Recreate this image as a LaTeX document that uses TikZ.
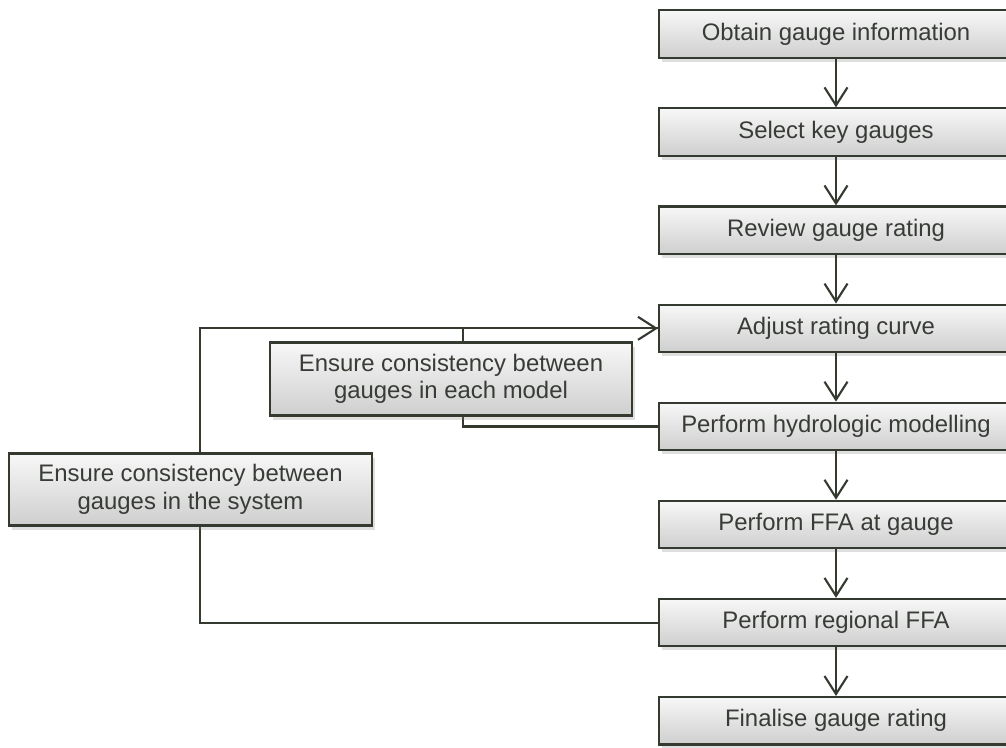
\documentclass[tikz,border=0pt]{standalone}
\usepackage{fontspec}
\setmainfont{Liberation Sans}
\usetikzlibrary{positioning,arrows.meta,shadows,backgrounds}
\definecolor{boxline}{RGB}{52,58,48}
\definecolor{boxtext}{RGB}{56,60,54}
\tikzset{
	stepbox/.style={draw=boxline, line width=1.2pt, text=boxtext,
		top color=gray!6, bottom color=gray!38,
		minimum width=7.08cm, minimum height=0.95cm, inner sep=0pt, align=center,
		font=\fontsize{13.6}{15.6}\selectfont,
		drop shadow={shadow xshift=0.06cm, shadow yshift=-0.08cm, opacity=0.25}},
	flow/.style={draw=boxline, line width=1.2pt},
	flowarr/.style={flow, -{Straight Barb[length=3.6mm,width=4.6mm]}}
}

\begin{document}
\begin{tikzpicture}[node distance=0.97cm]
	%%%%% START %%%%%
	\def\colx{16.72}
	\def\coly{-0.68}
	\def\loopx{0.19}
	\def\modx{0.24}

	\useasboundingbox (0,0) rectangle (20.12,-14.94);

	% main column
	\node[stepbox] (obtain) at (\colx,\coly) {Obtain gauge information};
	\node[stepbox, below=of obtain] (select) {Select key gauges};
	\node[stepbox, below=of select] (review) {Review gauge rating};
	\node[stepbox, below=of review] (adjust) {Adjust rating curve};
	\node[stepbox, below=of adjust] (hydro) {Perform hydrologic modelling};
	\node[stepbox, below=of hydro] (ffa) {Perform FFA at gauge};
	\node[stepbox, below=of ffa] (regional) {Perform regional FFA};
	\node[stepbox, below=of regional] (finalise) {Finalise gauge rating};

	% consistency checks
	\node[stepbox, minimum width=7.24cm, minimum height=1.46cm] (model) at (9.02,-7.58)
		{Ensure consistency between\\gauges in each model};
	\node[stepbox, minimum width=7.26cm, minimum height=1.44cm] (system) at (3.81,-9.79)
		{Ensure consistency between\\gauges in the system};

	\draw[flowarr] (obtain) -- (select);
	\draw[flowarr] (select) -- (review);
	\draw[flowarr] (review) -- (adjust);
	\draw[flowarr] (adjust) -- (hydro);
	\draw[flowarr] (hydro) -- (ffa);
	\draw[flowarr] (ffa) -- (regional);
	\draw[flowarr] (regional) -- (finalise);

	\begin{scope}[on background layer]
		\draw[flow] ([xshift=\modx cm]model.north) |- (adjust);
		\draw[flow] ([xshift=\modx cm]model.south) |- (hydro);
		\draw[flowarr] (regional) -| ([xshift=\loopx cm]system.center) |- (adjust);
	\end{scope}
	%%%%% END %%%%%
\end{tikzpicture}
\end{document}
